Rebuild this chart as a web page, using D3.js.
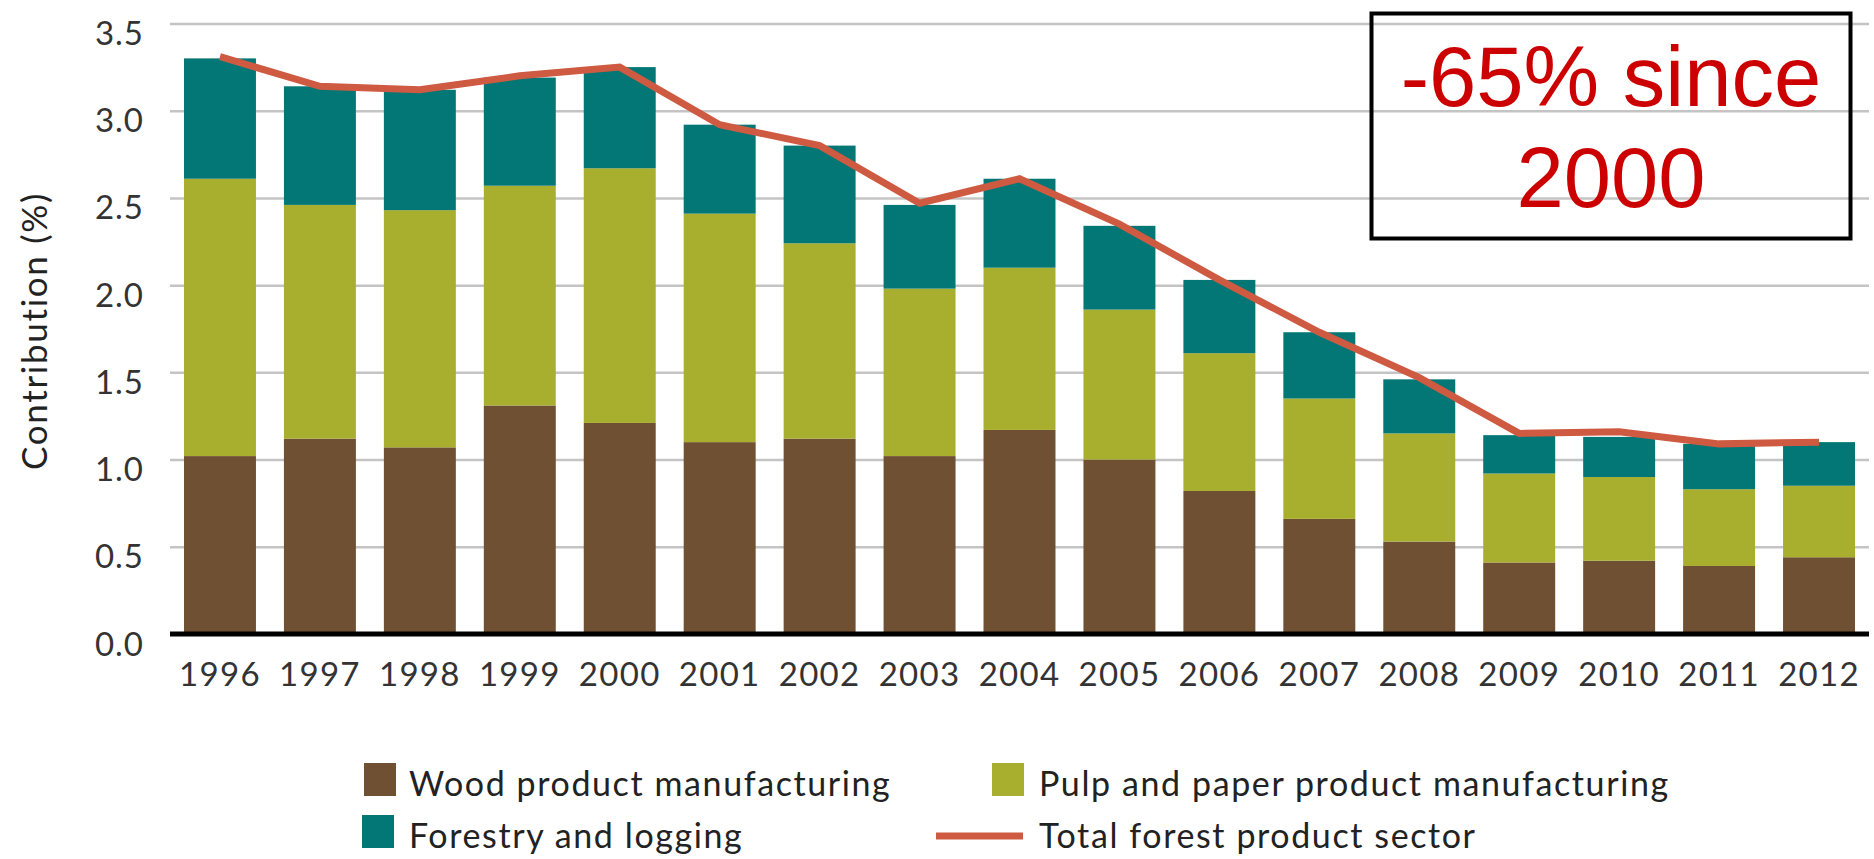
<!DOCTYPE html>
<html>
<head>
<meta charset="utf-8">
<script src="https://cdn.jsdelivr.net/npm/d3@7"></script>
<style>
  html, body { margin: 0; padding: 0; background: #fff; }
  svg { display: block; }
  text { font-family: Lato, "Noto Sans", sans-serif; }
</style>
</head>
<body>
<svg id="chart" width="1874" height="859"></svg>
<script>
// Contribution of the forest sector to GDP (%), 1996–2012
const years = ["1996","1997","1998","1999","2000","2001","2002","2003","2004","2005","2006","2007","2008","2009","2010","2011","2012"];
const woodProduct = [1.02, 1.12, 1.07, 1.31, 1.21, 1.10, 1.12, 1.02, 1.17, 1.00, 0.82, 0.66, 0.53, 0.41, 0.42, 0.39, 0.44];
const pulpPaper   = [1.59, 1.34, 1.36, 1.26, 1.46, 1.31, 1.12, 0.96, 0.93, 0.86, 0.79, 0.69, 0.62, 0.51, 0.48, 0.44, 0.41];
const forestry    = [0.69, 0.68, 0.69, 0.62, 0.58, 0.51, 0.56, 0.48, 0.51, 0.48, 0.42, 0.38, 0.31, 0.22, 0.23, 0.26, 0.25];
const totalSector = [3.31, 3.14, 3.12, 3.20, 3.25, 2.92, 2.80, 2.47, 2.61, 2.35, 2.03, 1.73, 1.47, 1.15, 1.16, 1.09, 1.10];
const yTicks = [0, 0.5, 1.0, 1.5, 2.0, 2.5, 3.0, 3.5];
const seriesNames = ["Wood product manufacturing", "Pulp and paper product manufacturing", "Forestry and logging"];
const lineName = "Total forest product sector";
const calloutLines = ["-65% since", "2000"];

const colors = {
  wood: "#6f5032",
  pulp: "#a8ae2e",
  forestry: "#037775",
  line: "#cf5a42"
};

const svg = d3.select("#chart");
const plotLeft = 170, plotRight = 1869, plotTop = 23.5, plotBottom = 634;

const x = d3.scaleBand().domain(years).range([plotLeft, plotRight]).paddingInner(0.28).paddingOuter(0.14);
const y = d3.scaleLinear().domain([0, 3.5]).range([plotBottom, plotTop]);

// gridlines
const grid = svg.append("g").attr("transform", `translate(${plotLeft},0)`)
  .call(d3.axisLeft(y).tickValues(yTicks).tickSize(-(plotRight - plotLeft)).tickFormat(""));
grid.select(".domain").remove();
grid.selectAll("line").attr("stroke", "#c4c4c4").attr("stroke-width", 2.5);

// stacked bars
const rows = years.map((yr, i) => ({ year: yr, wood: woodProduct[i], pulp: pulpPaper[i], forestry: forestry[i] }));
const stack = d3.stack().keys(["wood", "pulp", "forestry"]);
const layers = stack(rows);

svg.append("g").selectAll("g").data(layers).join("g")
  .attr("fill", d => colors[d.key])
  .selectAll("rect").data(d => d).join("rect")
  .attr("x", d => x(d.data.year))
  .attr("width", x.bandwidth())
  .attr("y", d => y(d[1]))
  .attr("height", d => y(d[0]) - y(d[1]));

// zero baseline
svg.append("line")
  .attr("x1", plotLeft).attr("x2", plotRight)
  .attr("y1", y(0)).attr("y2", y(0))
  .attr("stroke", "#000").attr("stroke-width", 5);

// y axis labels
const yAxis = svg.append("g").attr("transform", `translate(${plotLeft},0)`)
  .call(d3.axisLeft(y).tickValues(yTicks).tickSize(0).tickPadding(26).tickFormat(d3.format(".1f")));
yAxis.select(".domain").remove();
yAxis.selectAll("text").attr("y", 10.5).attr("font-size", 33).attr("fill", "#333")
  .attr("letter-spacing", 1)
  .style("font-family", "Lato, 'Noto Sans', sans-serif");

// x axis labels
const xAxis = svg.append("g").attr("transform", `translate(0,${plotBottom})`)
  .call(d3.axisBottom(x).tickSize(0).tickPadding(29));
xAxis.select(".domain").remove();
xAxis.selectAll("text").attr("font-size", 33).attr("fill", "#333")
  .attr("letter-spacing", 1.3)
  .style("font-family", "Lato, 'Noto Sans', sans-serif");

// y axis title
svg.append("text")
  .attr("transform", `translate(33,331) rotate(-90)`)
  .attr("text-anchor", "middle")
  .attr("dominant-baseline", "central")
  .attr("font-size", 35)
  .attr("letter-spacing", 1.7)
  .attr("fill", "#222")
  .text("Contribution (%)");

// total line
const line = d3.line()
  .x((d, i) => x(years[i]) + x.bandwidth() / 2)
  .y(d => y(d));
svg.append("path")
  .datum(totalSector)
  .attr("fill", "none")
  .attr("stroke", colors.line)
  .attr("stroke-width", 7)
  .attr("stroke-linejoin", "miter")
  .attr("d", line);

// legend
const legend = svg.append("g");
const legendItems = [
  { label: seriesNames[0], color: colors.wood, type: "rect", sx: 364, tx: 409, ty: 796 },
  { label: seriesNames[1], color: colors.pulp, type: "rect", sx: 992, tx: 1039, ty: 796 },
  { label: seriesNames[2], color: colors.forestry, type: "rect", sx: 362, tx: 409, ty: 848 },
  { label: lineName, color: colors.line, type: "line", sx: 936, tx: 1039, ty: 848 }
];
legendItems.forEach(it => {
  if (it.type === "rect") {
    legend.append("rect").attr("x", it.sx).attr("y", it.ty - 33).attr("width", 32).attr("height", 33).attr("fill", it.color);
  } else {
    legend.append("line").attr("x1", it.sx).attr("x2", it.sx + 87).attr("y1", it.ty - 12).attr("y2", it.ty - 12)
      .attr("stroke", it.color).attr("stroke-width", 7);
  }
  legend.append("text").attr("x", it.tx).attr("y", it.ty).attr("font-size", 34)
    .attr("letter-spacing", 1.6).attr("fill", "#222").text(it.label);
});

// callout box
const box = svg.append("g");
box.append("rect")
  .attr("x", 1371.5).attr("y", 13.5).attr("width", 479).attr("height", 225)
  .attr("fill", "none").attr("stroke", "#000").attr("stroke-width", 4);
box.selectAll("text.callout").data(calloutLines).join("text")
  .attr("class", "callout")
  .attr("x", 1611)
  .attr("y", (d, i) => 106 + i * 101)
  .attr("text-anchor", "middle")
  .attr("font-size", 85)
  .attr("fill", "#cc0000")
  .style("font-family", "'Liberation Sans', Arial, sans-serif")
  .text(d => d);
</script>
</body>
</html>
